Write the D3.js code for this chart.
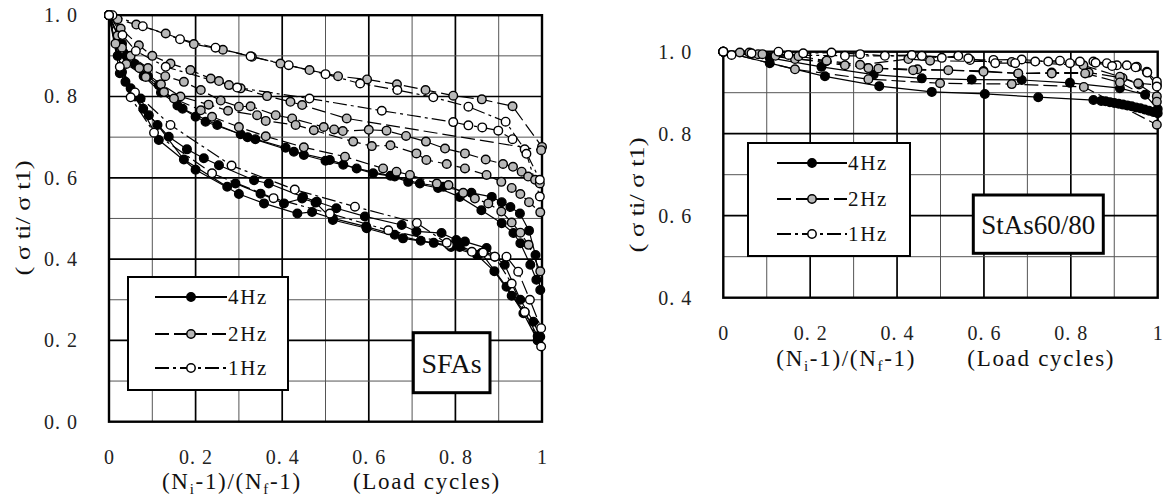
<!DOCTYPE html>
<html><head><meta charset="utf-8">
<script src="https://cdn.jsdelivr.net/npm/d3@7"></script>
<style>body{margin:0;background:#fff}</style>
</head><body>
<svg id="c" width="1166" height="502"></svg>
<script>
// ---------- data ----------
const frequencies = ["4Hz", "2Hz", "1Hz"];
const panelNames = ["SFAs", "StAs60/80"];
const xTickValues = [0, 0.2, 0.4, 0.6, 0.8, 1];
const xTickLabels = ["0", "0. 2", "0. 4", "0. 6", "0. 8", "1"];
const yTickValuesSFA = [0, 0.2, 0.4, 0.6, 0.8, 1.0];
const yTickLabelsSFA = ["0. 0", "0. 2", "0. 4", "0. 6", "0. 8", "1. 0"];
const yTickValuesStA = [0.4, 0.6, 0.8, 1.0];
const yTickLabelsStA = ["0. 4", "0. 6", "0. 8", "1. 0"];

// SFAs, 4Hz
const sfa4_a = [[0,1],[0.03,0.93],[0.06,0.88],[0.09,0.85],[0.115,0.828],[0.158,0.778],[0.2,0.75],[0.223,0.738],[0.304,0.707],[0.338,0.695],[0.408,0.674],[0.45,0.656],[0.5,0.642],[0.541,0.632],[0.61,0.611],[0.66,0.603],[0.718,0.586],[0.772,0.578],[0.837,0.563],[0.884,0.553],[0.907,0.54],[0.927,0.528],[0.949,0.512],[0.97,0.47],[0.985,0.41],[0.996,0.324]];
const sfa4_b = [[0,1],[0.04,0.9],[0.08,0.85],[0.12,0.81],[0.17,0.77],[0.25,0.73],[0.32,0.70],[0.427,0.664],[0.51,0.644],[0.572,0.623],[0.65,0.605],[0.691,0.59],[0.76,0.575],[0.81,0.553],[0.86,0.52],[0.907,0.488],[0.934,0.464],[0.95,0.439],[0.973,0.386],[0.987,0.349]];
const sfa4_c = [[0,1],[0.025,0.857],[0.038,0.836],[0.073,0.795],[0.092,0.754],[0.138,0.701],[0.18,0.67],[0.219,0.648],[0.254,0.631],[0.335,0.594],[0.369,0.586],[0.448,0.553],[0.48,0.541],[0.525,0.525],[0.591,0.505],[0.676,0.484],[0.71,0.468],[0.768,0.464],[0.802,0.447],[0.822,0.443],[0.872,0.427],[0.891,0.406],[0.914,0.386],[0.95,0.3],[0.98,0.246],[0.996,0.209]];
const sfa4_d = [[0,1],[0.02,0.9],[0.05,0.82],[0.079,0.77],[0.112,0.73],[0.173,0.645],[0.273,0.578],[0.292,0.586],[0.35,0.561],[0.404,0.537],[0.446,0.549],[0.477,0.539],[0.517,0.496],[0.595,0.476],[0.679,0.451],[0.75,0.44],[0.81,0.43],[0.86,0.415],[0.918,0.332],[0.957,0.267],[0.99,0.2]];
const sfa4_e = [[0,1],[0.03,0.86],[0.06,0.8],[0.115,0.693],[0.2,0.62],[0.3,0.56],[0.358,0.537],[0.435,0.512],[0.469,0.516],[0.517,0.5],[0.594,0.48],[0.66,0.46],[0.72,0.445],[0.79,0.43],[0.85,0.41],[0.89,0.37],[0.93,0.31],[0.96,0.27],[0.99,0.21]];
// SFAs, 2Hz
const sfa2_a = [[0,1],[0.02,0.99],[0.063,0.977],[0.131,0.955],[0.196,0.929],[0.263,0.915],[0.33,0.898],[0.396,0.881],[0.463,0.865],[0.529,0.85],[0.596,0.842],[0.665,0.83],[0.731,0.816],[0.795,0.802],[0.861,0.793],[0.932,0.776],[1.0,0.676]];
const sfa2_b = [[0,1],[0.027,0.967],[0.069,0.926],[0.1,0.9],[0.142,0.881],[0.188,0.865],[0.235,0.844],[0.254,0.838],[0.277,0.828],[0.304,0.82],[0.365,0.801],[0.419,0.787],[0.446,0.779],[0.549,0.746],[0.998,0.668]];
const sfa2_c = [[0,1],[0.02,0.95],[0.05,0.9],[0.09,0.87],[0.13,0.85],[0.173,0.836],[0.212,0.816],[0.258,0.79],[0.3,0.775],[0.327,0.776],[0.385,0.754],[0.423,0.746],[0.496,0.725],[0.52,0.719],[0.54,0.715],[0.6,0.718],[0.641,0.716],[0.686,0.703],[0.732,0.689],[0.776,0.672],[0.822,0.66],[0.87,0.645],[0.91,0.634],[0.933,0.627],[0.953,0.615],[0.968,0.603],[0.984,0.595],[0.995,0.586]];
const sfa2_d = [[0,1],[0.03,0.92],[0.07,0.87],[0.12,0.83],[0.165,0.8],[0.23,0.78],[0.275,0.765],[0.342,0.754],[0.362,0.74],[0.431,0.73],[0.473,0.717],[0.564,0.689],[0.607,0.678],[0.65,0.68],[0.71,0.66],[0.733,0.644],[0.78,0.634],[0.822,0.623],[0.872,0.607],[0.906,0.59],[0.93,0.575],[0.95,0.56],[0.97,0.54],[0.996,0.515]];
const sfa2_e = [[0,1],[0.015,0.93],[0.04,0.88],[0.085,0.848],[0.127,0.811],[0.15,0.795],[0.212,0.766],[0.238,0.75],[0.3,0.725],[0.362,0.702],[0.45,0.675],[0.545,0.652],[0.633,0.623],[0.664,0.615],[0.695,0.607],[0.757,0.586],[0.784,0.582],[0.818,0.563],[0.845,0.549],[0.876,0.537],[0.906,0.517],[0.93,0.49],[0.95,0.465],[0.969,0.435],[0.996,0.37]];
// SFAs, 1Hz
const sfa1_a = [[0,1],[0.008,1.0],[0.078,0.973],[0.164,0.941],[0.246,0.92],[0.327,0.899],[0.415,0.877],[0.5,0.855],[0.58,0.832],[0.666,0.816],[0.749,0.798],[0.83,0.775],[0.916,0.738],[0.96,0.67],[0.995,0.595]];
const sfa1_b = [[0,1],[0.031,0.951],[0.062,0.912],[0.131,0.873],[0.296,0.822],[0.463,0.795],[0.63,0.765],[0.795,0.737],[0.83,0.729],[0.862,0.724],[0.899,0.716],[0.932,0.695],[0.964,0.659],[0.995,0.554]];
const sfa1_c = [[0,1],[0.025,0.873],[0.06,0.81],[0.142,0.73],[0.283,0.63],[0.429,0.571],[0.568,0.529],[0.711,0.489],[0.785,0.435],[0.838,0.418],[0.864,0.416],[0.918,0.406],[0.945,0.369],[0.972,0.3],[0.998,0.23]];
const sfa1_d = [[0,1],[0.05,0.798],[0.104,0.711],[0.238,0.611],[0.38,0.55],[0.51,0.512],[0.645,0.471],[0.78,0.44],[0.891,0.406],[0.93,0.34],[0.96,0.27],[0.998,0.185]];

// StAs60/80, 4Hz
const sta4_a = [[0,1],[0.107,0.972],[0.234,0.94],[0.359,0.916],[0.48,0.902],[0.602,0.897],[0.725,0.889],[0.852,0.882],[0.87,0.88],[0.88,0.879],[0.89,0.877],[0.9,0.875],[0.91,0.873],[0.92,0.871],[0.93,0.869],[0.94,0.867],[0.95,0.864],[0.96,0.862],[0.97,0.859],[0.98,0.856],[0.99,0.853],[1.0,0.85]];
const sta4_b = [[0,1],[0.107,0.985],[0.226,0.963],[0.346,0.944],[0.457,0.935],[0.572,0.932],[0.687,0.931],[0.798,0.924],[0.913,0.911],[0.971,0.895],[1.0,0.86]];
// StAs60/80, 2Hz
const sta2_a = [[0,1],[0.165,0.957],[0.334,0.933],[0.499,0.923],[0.664,0.921],[0.83,0.914],[0.998,0.822]];
const sta2_b = [[0,1],[0.08,0.994],[0.165,0.982],[0.237,0.977],[0.334,0.96],[0.447,0.957],[0.599,0.953],[0.679,0.947],[0.756,0.949],[0.841,0.949],[0.919,0.936],[0.957,0.92],[0.998,0.891]];
const sta2_c = [[0,1],[0.038,0.998],[0.09,0.994],[0.173,0.989],[0.238,0.978],[0.315,0.968],[0.426,0.982],[0.476,0.978],[0.664,0.975],[0.829,0.967],[0.913,0.939],[0.955,0.923],[0.998,0.919]];
const sta2_d = [[0,1],[0.06,0.998],[0.12,0.99],[0.28,0.967],[0.357,0.959],[0.437,0.955],[0.518,0.955],[0.599,0.951],[0.679,0.947],[0.756,0.947],[0.833,0.947],[0.913,0.925],[0.998,0.878]];
// StAs60/80, 1Hz
const sta1_a = [[0,1],[0.019,0.992],[0.065,0.996],[0.127,1.0],[0.184,0.996],[0.249,0.998],[0.315,0.994],[0.372,0.99],[0.434,0.992],[0.503,0.985],[0.541,0.99],[0.568,0.98],[0.622,0.98],[0.687,0.981],[0.748,0.976],[0.798,0.972],[0.852,0.976],[0.883,0.972],[0.906,0.967],[0.929,0.967],[0.952,0.963],[0.975,0.951],[0.998,0.927]];
const sta1_b = [[0,1],[0.15,0.992],[0.28,0.99],[0.457,0.99],[0.564,0.984],[0.626,0.972],[0.672,0.972],[0.718,0.976],[0.775,0.978],[0.821,0.976],[0.857,0.973],[0.895,0.965],[0.949,0.962],[0.976,0.949],[0.998,0.915]];

// ---------- styles ----------
const fills = {"4Hz": "#000", "2Hz": "#b8b8b8", "1Hz": "#fff"};
const dashes = {"4Hz": null, "2Hz": "14,5", "1Hz": "14,4,3,4"};
const FONT = "'Liberation Serif','Times New Roman',serif";

const svg = d3.select("#c");

function drawPanel(cfg) {
  const x = d3.scaleLinear().domain([0, 1]).range([cfg.left, cfg.right]);
  const y = d3.scaleLinear().domain(cfg.yDomain).range([cfg.bottom, cfg.top]);
  const g = svg.append("g");

  // grid
  const gx = d3.range(1, 10).map(i => i / 10);
  const ySteps = Math.round((cfg.yDomain[1] - cfg.yDomain[0]) * 10);
  const gy = d3.range(1, ySteps).map(i => +(cfg.yDomain[0] + i / 10).toFixed(2));
  const major = d => Math.round(d * 10) % 2 === 0;
  g.selectAll(".vx").data(gx).join("line")
    .attr("x1", d => x(d)).attr("x2", d => x(d))
    .attr("y1", cfg.top).attr("y2", cfg.bottom)
    .attr("stroke", d => major(d) ? "#000" : "#555")
    .attr("stroke-width", d => major(d) ? 1.7 : 1);
  g.selectAll(".hy").data(gy).join("line")
    .attr("y1", d => y(d)).attr("y2", d => y(d))
    .attr("x1", cfg.left).attr("x2", cfg.right)
    .attr("stroke", d => major(d) ? "#000" : "#555")
    .attr("stroke-width", d => major(d) ? 1.7 : 1);
  g.append("rect").attr("x", cfg.left).attr("y", cfg.top)
    .attr("width", cfg.right - cfg.left).attr("height", cfg.bottom - cfg.top)
    .attr("fill", "none").attr("stroke", "#000").attr("stroke-width", 2.4);

  // axes (labels only)
  const ax = g.append("g").attr("transform", `translate(0,${cfg.bottom})`)
    .call(d3.axisBottom(x).tickValues(xTickValues).tickSize(0).tickPadding(28)
      .tickFormat((d, i) => xTickLabels[i]));
  const ay = g.append("g").attr("transform", `translate(${cfg.left},0)`)
    .call(d3.axisLeft(y).tickValues(cfg.yTicks).tickSize(0).tickPadding(31)
      .tickFormat((d, i) => cfg.yLabels[i]));
  [ax, ay].forEach(a => {
    a.attr("font-family", null).attr("font-size", null);
    a.select(".domain").remove();
    a.selectAll("text").style("font-family", FONT).style("font-size", "20px")
      .attr("fill", "#222").attr("letter-spacing", "1px");
  });

  // series
  const line = d3.line().x(d => x(d[0])).y(d => y(d[1]));
  cfg.groups.forEach(grp => {
    grp.curves.forEach(c => {
      g.append("path").attr("d", line(c)).attr("fill", "none")
        .attr("stroke", "#000").attr("stroke-width", 1.2)
        .attr("stroke-dasharray", dashes[grp.freq]);
    });
  });
  cfg.groups.forEach(grp => {
    grp.curves.forEach(c => {
      g.append("g").selectAll("circle").data(c).join("circle")
        .attr("cx", d => x(d[0])).attr("cy", d => y(d[1])).attr("r", 4.3)
        .attr("fill", fills[grp.freq]).attr("stroke", "#000").attr("stroke-width", 1.4);
    });
  });

  // legend
  const L = cfg.legend;
  g.append("rect").attr("x", L.x).attr("y", L.y).attr("width", L.w).attr("height", L.h)
    .attr("fill", "#fff").attr("stroke", "#000").attr("stroke-width", 2);
  frequencies.forEach((f, i) => {
    const cy = L.y + L.rows[i];
    g.append("line").attr("x1", L.x + L.l0).attr("x2", L.x + L.l1).attr("y1", cy).attr("y2", cy)
      .attr("stroke", "#000").attr("stroke-width", 2).attr("stroke-dasharray", dashes[f]);
    g.append("circle").attr("cx", L.x + (L.l0 + L.l1) / 2).attr("cy", cy).attr("r", 4.2)
      .attr("fill", fills[f]).attr("stroke", "#000").attr("stroke-width", 1.5);
    g.append("text").attr("x", L.x + L.l1 + 1).attr("y", cy).attr("dy", "0.35em")
      .style("font-family", FONT).style("font-size", "21px").attr("letter-spacing", "1.7px")
      .attr("fill", "#111").text(f);
  });

  // name box
  const B = cfg.nameBox;
  g.append("rect").attr("x", B.x).attr("y", B.y).attr("width", B.w).attr("height", B.h)
    .attr("fill", "#fff").attr("stroke", "#000").attr("stroke-width", 3);
  g.append("text").attr("x", B.x + B.w / 2).attr("y", B.y + B.h / 2).attr("dy", "0.35em")
    .attr("text-anchor", "middle").style("font-family", FONT).style("font-size", B.fs + "px")
    .attr("fill", "#111").text(cfg.name);

  // x title
  const t = g.append("text").attr("x", cfg.left + 53).attr("y", cfg.xTitleY)
    .style("font-family", FONT).style("font-size", "23px").attr("letter-spacing", "1.7px").attr("fill", "#111");
  t.append("tspan").text("(N");
  t.append("tspan").style("font-size", "15px").attr("dy", 5).text("i");
  t.append("tspan").attr("dy", -5).text("-1)/(N");
  t.append("tspan").style("font-size", "15px").attr("dy", 5).text("f");
  t.append("tspan").attr("dy", -5).text("-1)");
  g.append("text").attr("x", cfg.left + 244).attr("y", cfg.xTitleY)
    .style("font-family", FONT).style("font-size", "23px").attr("letter-spacing", "1.7px")
    .attr("fill", "#111").text("(Load cycles)");

  // y title
  g.append("text").attr("transform", `translate(${cfg.yTitleX},${cfg.yTitleY}) rotate(-90)`)
    .attr("text-anchor", "middle").attr("dy", "0.35em")
    .style("font-family", FONT).style("font-size", "20px").attr("fill", "#111")
    .attr("textLength", 115).attr("lengthAdjust", "spacingAndGlyphs")
    .text("( σ ti/ σ t1)");
}

drawPanel({
  left: 109, right: 542, top: 15.2, bottom: 421.7, yDomain: [0, 1],
  yTicks: yTickValuesSFA, yLabels: yTickLabelsSFA, name: panelNames[0],
  groups: [
    {freq: "4Hz", curves: [sfa4_a, sfa4_b, sfa4_c, sfa4_d, sfa4_e]},
    {freq: "2Hz", curves: [sfa2_a, sfa2_b, sfa2_c, sfa2_d, sfa2_e]},
    {freq: "1Hz", curves: [sfa1_a, sfa1_b, sfa1_c, sfa1_d]}
  ],
  legend: {x: 128, y: 277, w: 160, h: 113, rows: [20, 57, 91], l0: 27, l1: 99},
  nameBox: {x: 413.3, y: 332.7, w: 76.7, h: 60, fs: 28},
  xTitleY: 489, yTitleX: 23, yTitleY: 218
});

drawPanel({
  left: 723.3, right: 1157.7, top: 51.7, bottom: 297.7, yDomain: [0.4, 1],
  yTicks: yTickValuesStA, yLabels: yTickLabelsStA, name: panelNames[1],
  groups: [
    {freq: "4Hz", curves: [sta4_a, sta4_b]},
    {freq: "2Hz", curves: [sta2_a, sta2_b, sta2_c, sta2_d]},
    {freq: "1Hz", curves: [sta1_a, sta1_b]}
  ],
  legend: {x: 748, y: 143, w: 162, h: 113, rows: [20, 56, 91], l0: 29, l1: 99},
  nameBox: {x: 973.3, y: 195, w: 130, h: 58.3, fs: 27},
  xTitleY: 366, yTitleX: 637, yTitleY: 195
});
</script>
</body></html>
